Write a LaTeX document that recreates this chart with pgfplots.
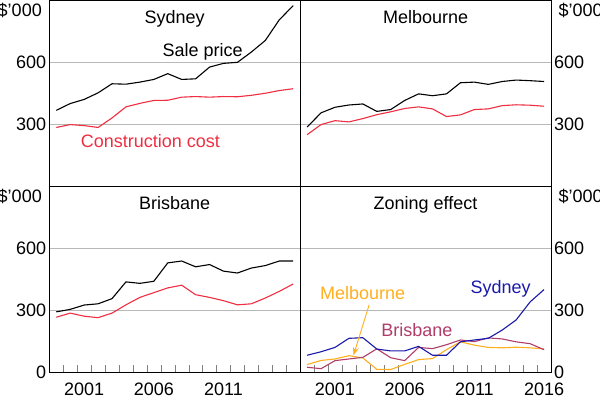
\documentclass[border=0pt]{standalone}
\usepackage{fontspec}
\setmainfont{Liberation Sans}
\usepackage{pgfplots}
\pgfplotsset{compat=1.18}
\usetikzlibrary{arrows.meta}
\definecolor{rbared}{RGB}{240,45,65}
\definecolor{rbablue}{RGB}{25,25,170}
\definecolor{rbamaroon}{RGB}{175,60,105}
\definecolor{rbaorange}{RGB}{255,175,30}
\newcommand{\fs}{\fontsize{18bp}{21bp}\selectfont}
\pgfplotstableread{
yr syds sydc mels melc briss brisc zs zm zb
1999.5 367 284 286 249 291 265 81 36 23
2000.5 400 298 355 298 303 285 98 56 16
2001.5 420 293 382 317 324 270 119 63 55
2002.5 452 284 393 311 330 263 163 79 63
2003.5 496 330 398 327 355 285 166 68 71
2004.5 494 384 362 346 436 325 111 13 112
2005.5 504 401 371 360 429 361 102 12 69
2006.5 517 415 415 376 439 384 102 37 55
2007.5 545 416 447 384 528 407 124 60 119
2008.5 517 431 438 374 537 420 81 65 113
2009.5 520 434 447 337 509 374 81 108 132
2010.5 577 431 501 345 520 361 146 146 155
2011.5 595 434 504 371 488 345 155 130 147
2012.5 600 433 493 374 479 325 163 119 165
2013.5 650 440 507 390 503 330 203 117 160
2014.5 706 450 514 394 515 358 252 120 146
2015.5 806 463 511 392 537 390 339 117 137
2016.5 875 472 507 387 537 426 399 112 108
}\data
\pgfplotsset{
  panel/.style={scale only axis, width=250.85bp, xmin=1999, xmax=2017, ymin=0, ymax=900,
    axis line style={line width=0.8bp}, ymajorgrids, grid style={black!28, line width=0.8bp},
    major tick length=0pt, tick label style={font=\fs},
    /pgf/number format/assume math mode=true, clip=false,
    every axis plot/.append style={line width=1.1bp, mark=none},
    yticklabel style={inner xsep=3bp}},
  toppanel/.style={height=185.5bp, ytick={300,600}, xtick=\empty},
  botpanel/.style={height=186bp, ytick={0,300,600},
    minor xtick={2000,...,2016}, minor tick length=7bp, tick align=inside, xtick pos=bottom,
    xticklabel style={yshift=-7bp}},
}
\begin{document}
\begin{tikzpicture}
\useasboundingbox (0,0) rectangle (600bp,398bp);
% Sydney
\begin{axis}[panel, toppanel, at={(49.3bp,212bp)}, anchor=south west]
\addplot[black] table[x=yr,y=syds]{\data};
\addplot[rbared] table[x=yr,y=sydc]{\data};
\node[anchor=base, yshift=-23bp, font=\fs] at (rel axis cs:0.5,1) {Sydney};
\node[anchor=base east, xshift=-4bp, yshift=-15.5bp, font=\fs] at (rel axis cs:0,1) {\$'000};
\node[anchor=base, font=\fs] at (axis cs:2010,629) {Sale price};
\node[anchor=base, font=\fs, text=rbared] at (axis cs:2006.26,185) {Construction cost};
\end{axis}
% Melbourne
\begin{axis}[panel, toppanel, at={(300.15bp,212bp)}, anchor=south west, yticklabel pos=right]
\addplot[black] table[x=yr,y=mels]{\data};
\addplot[rbared] table[x=yr,y=melc]{\data};
\node[anchor=base, yshift=-23bp, font=\fs] at (rel axis cs:0.5,1) {Melbourne};
\node[anchor=base west, xshift=4bp, yshift=-15.5bp, font=\fs] at (rel axis cs:1,1) {\$'000};
\end{axis}
% Brisbane
\begin{axis}[panel, botpanel, at={(49.3bp,26bp)}, anchor=south west,
  xtick={2001.5,2006.5,2011.5}, xticklabels={2001,2006,2011}]
\addplot[black] table[x=yr,y=briss]{\data};
\addplot[rbared] table[x=yr,y=brisc]{\data};
\node[anchor=base, yshift=-23bp, font=\fs] at (rel axis cs:0.5,1) {Brisbane};
\node[anchor=base east, xshift=-4bp, yshift=-16bp, font=\fs] at (rel axis cs:0,1) {\$'000};
\end{axis}
% Zoning effect
\begin{axis}[panel, botpanel, at={(300.15bp,26bp)}, anchor=south west, yticklabel pos=right,
  xtick={2001.5,2006.5,2011.5,2016.5}, xticklabels={2001,2006,2011,2016}]
\addplot[rbaorange] table[x=yr,y=zm]{\data};
\addplot[rbamaroon] table[x=yr,y=zb]{\data};
\addplot[rbablue] table[x=yr,y=zs]{\data};
\node[anchor=base, yshift=-23bp, font=\fs] at (rel axis cs:0.5,1) {Zoning effect};
\node[anchor=base west, xshift=4bp, yshift=-16bp, font=\fs] at (rel axis cs:1,1) {\$'000};
\node[anchor=base, font=\fs, text=rbablue] at (axis cs:2013.39,382) {Sydney};
\node[anchor=base, font=\fs, text=rbamaroon] at (axis cs:2007.38,171) {Brisbane};
\node[anchor=base, font=\fs, text=rbaorange] at (axis cs:2003.49,350) {Melbourne};
\draw[rbaorange, line width=0.9bp, -{Stealth[length=8bp,width=6bp]}] (axis cs:2003.95,325) -- (axis cs:2002.83,81);
\end{axis}
\end{tikzpicture}
\end{document}
